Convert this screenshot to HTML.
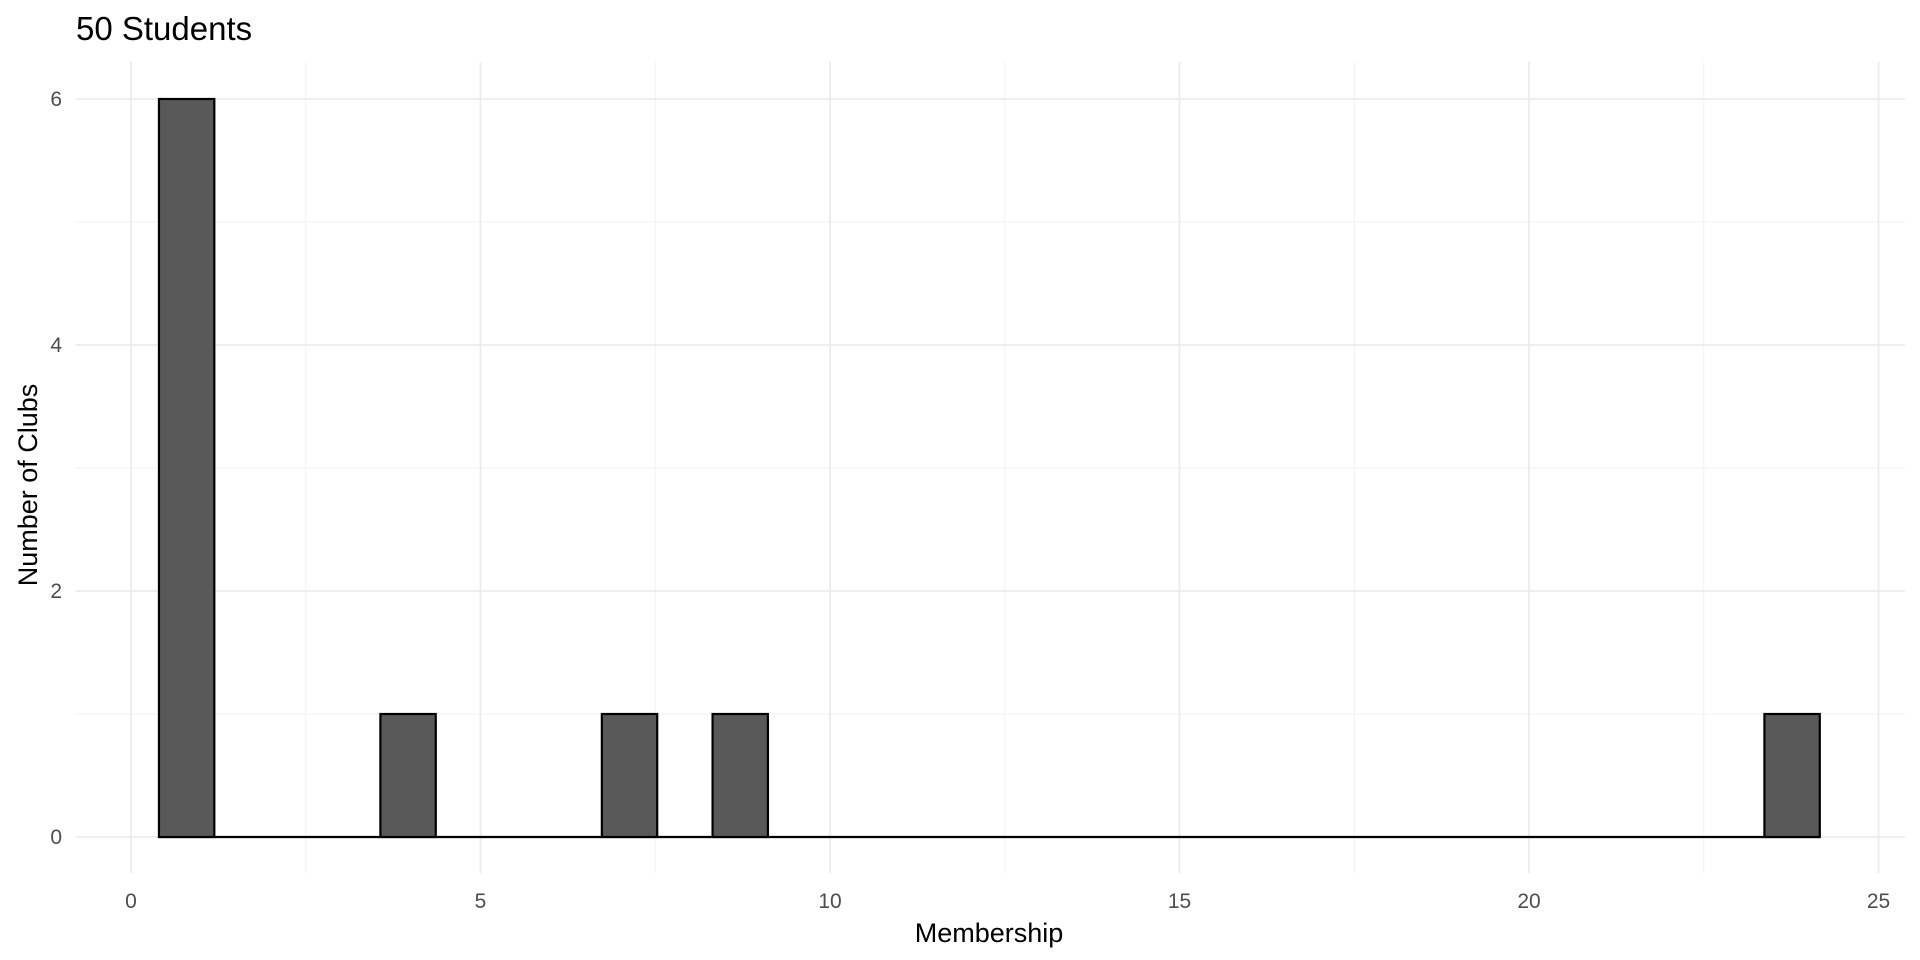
<!DOCTYPE html>
<html><head><meta charset="utf-8"><style>
html,body{margin:0;padding:0;background:#fff;}
svg{display:block;font-family:"Liberation Sans",Arial,sans-serif;}
</style></head><body>
<svg id="chart" width="1920" height="960">
<text x="76" y="40" font-size="33" fill="#000">50 Students</text>
<g id="grid"></g>
<g id="bars"></g>
<g id="axes"></g>
<text x="989" y="942" font-size="27" fill="#000" text-anchor="middle">Membership</text>
<text transform="translate(37,485) rotate(-90)" font-size="27" fill="#000" text-anchor="middle">Number of Clubs</text>
</svg>
<script>
const binStart = 0.4;
const binWidth = 0.792;
const counts = [6,0,0,0,1,0,0,0,1,0,1,0,0,0,0,0,0,0,0,0,0,0,0,0,0,0,0,0,0,1];
const xTicks = [0,5,10,15,20,25];
const yTicks = [0,2,4,6];
const NS='http://www.w3.org/2000/svg';
const px0=76, px1=1905, py0=62, py1=873;
const xs = v => 131 + v*69.9;
const ys = v => 837 - v*123;
const grid=document.getElementById('grid'), bars=document.getElementById('bars'), axes=document.getElementById('axes');
function line(p,x1,y1,x2,y2,c,w){const l=document.createElementNS(NS,'line');l.setAttribute('x1',x1);l.setAttribute('y1',y1);l.setAttribute('x2',x2);l.setAttribute('y2',y2);l.setAttribute('stroke',c);l.setAttribute('stroke-width',w);p.appendChild(l);return l;}
for(let v=1;v<=7;v+=2){const l=line(grid,px0,ys(v),px1,ys(v),'#f2f2f2',1);

}
for(let v=2.5;v<=22.5;v+=5){const l=line(grid,xs(v),py0,xs(v),py1,'#f2f2f2',1);

}
yTicks.forEach(v=>{const l=line(grid,px0,ys(v),px1,ys(v),'#ebebeb',1.8);


const t=document.createElementNS(NS,'text');t.setAttribute('x',62);t.setAttribute('y',ys(v)+7);t.setAttribute('font-size','21');t.setAttribute('fill','#4d4d4d');t.setAttribute('text-anchor','end');t.textContent=v;


axes.appendChild(t);});
xTicks.forEach(v=>{const l=line(grid,xs(v),py0,xs(v),py1,'#ebebeb',1.8);


const t=document.createElementNS(NS,'text');t.setAttribute('x',xs(v));t.setAttribute('y',908);t.setAttribute('font-size','21');t.setAttribute('fill','#4d4d4d');t.setAttribute('text-anchor','middle');t.textContent=v;


axes.appendChild(t);});
const base=line(bars,xs(binStart),ys(0),xs(binStart+counts.length*binWidth),ys(0),'#000',2.2);


counts.forEach((c,i)=>{if(c<=0)return;const x0=xs(binStart+i*binWidth), x1=xs(binStart+(i+1)*binWidth);
const r=document.createElementNS(NS,'rect');
r.setAttribute('x',x0);r.setAttribute('width',x1-x0);r.setAttribute('y',ys(c));r.setAttribute('height',ys(0)-ys(c));
r.setAttribute('fill','#595959');r.setAttribute('stroke','#000');r.setAttribute('stroke-width','2.2');


bars.appendChild(r);});
</script>
</body></html>
